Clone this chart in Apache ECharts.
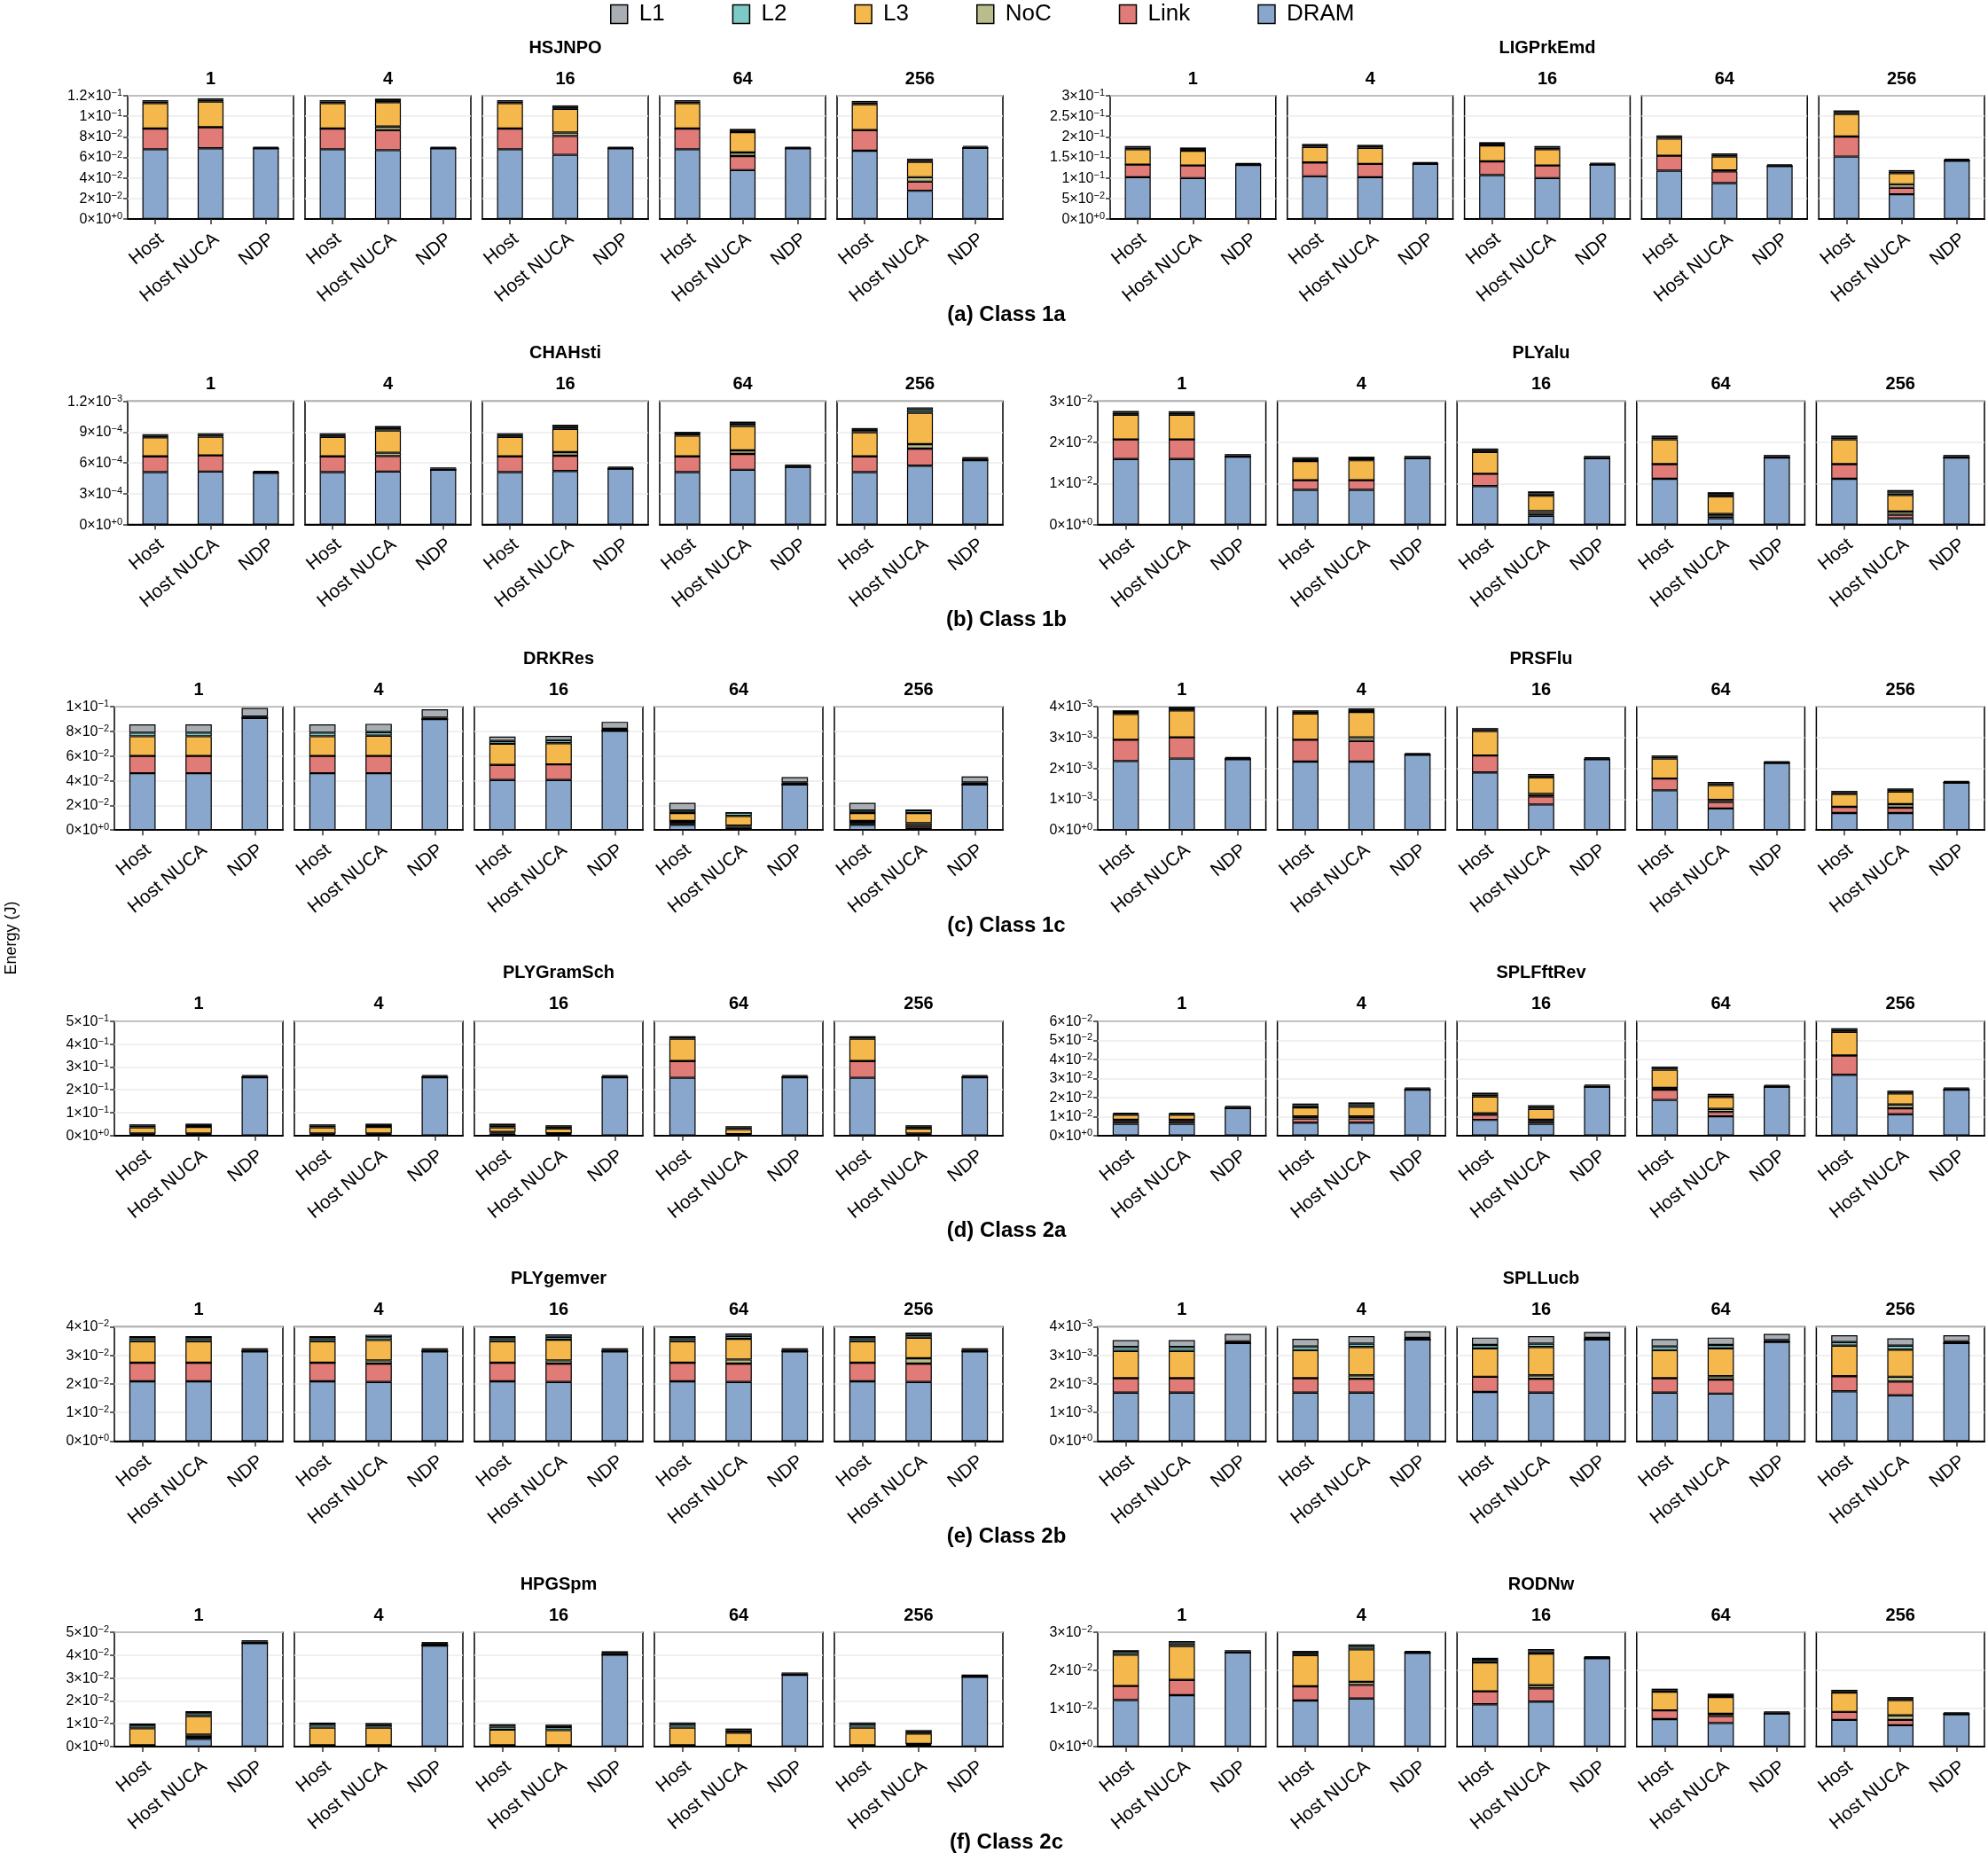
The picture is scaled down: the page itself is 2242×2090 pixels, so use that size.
<!DOCTYPE html>
<html>
<head>
<meta charset="utf-8">
<script src="https://cdn.jsdelivr.net/npm/echarts@6/dist/echarts.min.js"></script>
<style>html,body{margin:0;padding:0;background:#fff}#main{width:2242px;height:2090px}</style>
</head>
<body>
<div id="main"></div>
<script>
// ---------- categories ----------
const COMPONENTS = ['DRAM', 'Link', 'NoC', 'L3', 'L2', 'L1']; // stack order, bottom -> top
const LEGEND_ORDER = ['L1', 'L2', 'L3', 'NoC', 'Link', 'DRAM'];
const CONFIGS = ['Host', 'Host NUCA', 'NDP'];
const FACETS = ['1', '4', '16', '64', '256'];
const BENCHMARKS = ['HSJNPO', 'LIGPrkEmd', 'CHAHsti', 'PLYalu', 'DRKRes', 'PRSFlu',
                    'PLYGramSch', 'SPLFftRev', 'PLYgemver', 'SPLLucb', 'HPGSpm', 'RODNw'];
const CAPTIONS = ['(a) Class 1a', '(b) Class 1b', '(c) Class 1c', '(d) Class 2a', '(e) Class 2b', '(f) Class 2c'];
// y-axis ticks per benchmark
const Y_MAX  = [0.12, 0.3, 1.2e-3, 3e-2, 0.1, 4e-3, 0.5, 6e-2, 4e-2, 4e-3, 5e-2, 3e-2];
const Y_STEP = [0.02, 0.05, 3e-4, 1e-2, 0.02, 1e-3, 0.1, 1e-2, 1e-2, 1e-3, 1e-2, 1e-2];

// ---------- values: per benchmark, per component; 15 values = facet(1,4,16,64,256) x [Host, Host NUCA, NDP] ----------
const HSJNPO_DRAM = [.0679,.0688,.0688, .0679,.0670,.0688, .0679,.0625,.0688, .0679,.0476,.0688, .0665,.0275,.0693];
const HSJNPO_Link = [.0201,.0206,0, .0201,.0195,0, .0201,.0183,0, .0201,.0137,0, .0200,.0089,0];
const HSJNPO_NoC  = [0,0,0, 0,.0035,0, 0,.0034,0, 0,.0035,0, 0,.0043,0];
const HSJNPO_L3   = [.0249,.0249,0, .0249,.0237,0, .0249,.0230,0, .0249,.0197,0, .0252,.0149,0];
const HSJNPO_L2   = [.0015,.0018,.0007, .0015,.0019,.0007, .0015,.0018,.0007, .0015,.0017,.0007, .0017,.0017,.0010];
const HSJNPO_L1   = [.0013,.0014,.0007, .0013,.0016,.0007, .0013,.0016,.0007, .0013,.0015,.0007, .0015,.0014,.0010];

const LIGPrkEmd_DRAM = [.1017,.0996,.1318, .1039,.1017,.1340, .1067,.0996,.1325, .1175,.0874,.1289, .1519,.0602,.1418];
const LIGPrkEmd_Link = [.0308,.0308,0, .0336,.0323,0, .0337,.0308,0, .0365,.0286,0, .0487,.0157,0];
const LIGPrkEmd_NoC  = [0,0,0, 0,0,0, 0,0,0, 0,.0025,0, 0,.0086,0];
const LIGPrkEmd_L3   = [.0373,.0358,0, .0380,.0393,0, .0387,.0394,0, .0415,.0334,0, .0551,.0272,0];
const LIGPrkEmd_L2   = [.0042,.0042,.0022, .0039,.0039,.0022, .0042,.0042,.0023, .0042,.0042,.0023, .0046,.0039,.0027];
const LIGPrkEmd_L1   = [.0036,.0036,.0020, .0033,.0033,.0020, .0037,.0036,.0020, .0037,.0036,.0020, .0040,.0033,.0023];

const CHAHsti_DRAM = [5.10e-4,5.16e-4,5.04e-4, 5.10e-4,5.16e-4,5.33e-4, 5.10e-4,5.21e-4,5.44e-4, 5.10e-4,5.33e-4,5.61e-4, 5.10e-4,5.73e-4,6.27e-4];
const CHAHsti_Link = [1.54e-4,1.57e-4,0, 1.54e-4,1.51e-4,0, 1.54e-4,1.49e-4,0, 1.54e-4,1.54e-4,0, 1.54e-4,1.66e-4,0];
const CHAHsti_NoC  = [0,0,0, 0,0.32e-4,0, 0,0.35e-4,0, 0,0.35e-4,0, 0,0.43e-4,0];
const CHAHsti_L3   = [1.84e-4,1.83e-4,0, 1.89e-4,2.17e-4,0, 1.89e-4,2.26e-4,0, 2.01e-4,2.37e-4,0, 2.35e-4,3.06e-4,0];
const CHAHsti_L2   = [0.17e-4,0.17e-4,0.09e-4, 0.19e-4,0.23e-4,0.12e-4, 0.19e-4,0.22e-4,0.11e-4, 0.20e-4,0.23e-4,0.12e-4, 0.22e-4,0.28e-4,0.15e-4];
const CHAHsti_L1   = [0.14e-4,0.15e-4,0.08e-4, 0.16e-4,0.20e-4,0.11e-4, 0.16e-4,0.18e-4,0.09e-4, 0.17e-4,0.20e-4,0.11e-4, 0.18e-4,0.24e-4,0.14e-4];

const PLYalu_DRAM = [.01593,.01593,.01650, .00843,.00843,.01614, .00936,.00214,.01614, .01114,.00150,.01629, .01114,.00150,.01629];
const PLYalu_Link = [.00478,.00478,0, .00236,.00236,0, .00300,.00050,0, .00357,.00050,0, .00357,.00086,0];
const PLYalu_NoC  = [0,0,0, 0,0,0, 0,.00065,0, 0,.00057,0, 0,.00078,0];
const PLYalu_L3   = [.00600,.00600,0, .00464,.00485,0, .00528,.00371,0, .00600,.00429,0, .00600,.00407,0];
const PLYalu_L2   = [.00050,.00046,.00034, .00050,.00046,.00030, .00046,.00057,.00030, .00050,.00053,.00034, .00050,.00061,.00034];
const PLYalu_L1   = [.00043,.00040,.00030, .00043,.00040,.00027, .00040,.00050,.00027, .00043,.00047,.00030, .00043,.00054,.00030];

const DRKRes_DRAM = [.0461,.0461,.0909, .0461,.0461,.0900, .0406,.0406,.0805, .0043,.0017,.0370, .0043,.0017,.0370];
const DRKRes_Link = [.0140,.0140,0, .0140,.0140,0, .0122,.0127,0, .0015,.0010,0, .0015,.0018,0];
const DRKRes_NoC  = [0,0,0, 0,0,0, 0,0,0, .0016,.0009,0, .0016,.0020,0];
const DRKRes_L3   = [.0160,.0160,0, .0160,.0165,0, .0172,.0172,0, .0064,.0079,0, .0064,.0083,0];
const DRKRes_L2   = [.0029,.0029,.0012, .0029,.0029,.0012, .0023,.0024,.0017, .0020,.0026,.0017, .0020,.0024,.0017];
const DRKRes_L1   = [.0067,.0067,.0069, .0067,.0067,.0068, .0036,.0035,.0056, .0062,0,.0043, .0062,0,.0047];

const PRSFlu_DRAM = [2.24e-3,2.32e-3,2.30e-3, 2.22e-3,2.22e-3,2.44e-3, 1.87e-3,0.83e-3,2.30e-3, 1.29e-3,0.70e-3,2.18e-3, 0.554e-3,0.554e-3,1.54e-3];
const PRSFlu_Link = [0.69e-3,0.69e-3,0, 0.71e-3,0.67e-3,0, 0.55e-3,0.26e-3,0, 0.38e-3,0.21e-3,0, 0.20e-3,0.172e-3,0];
const PRSFlu_NoC  = [0,0,0, 0,0.12e-3,0, 0,0.08e-3,0, 0,0.07e-3,0, 0,0.114e-3,0];
const PRSFlu_L3   = [0.84e-3,0.87e-3,0, 0.85e-3,0.82e-3,0, 0.79e-3,0.54e-3,0, 0.65e-3,0.48e-3,0, 0.416e-3,0.41e-3,0];
const PRSFlu_L2   = [0.063e-3,0.065e-3,0.04e-3, 0.058e-3,0.065e-3,0.03e-3, 0.055e-3,0.06e-3,0.03e-3, 0.055e-3,0.055e-3,0.03e-3, 0.055e-3,0.055e-3,0.03e-3];
const PRSFlu_L1   = [0.053e-3,0.055e-3,0.03e-3, 0.048e-3,0.055e-3,0.03e-3, 0.045e-3,0.05e-3,0.03e-3, 0.045e-3,0.045e-3,0.02e-3, 0.045e-3,0.045e-3,0.02e-3];

const PLYGramSch_DRAM = [.004,.004,.255, .004,.004,.255, .008,.004,.255, .2526,.002,.255, .2526,.003,.255];
const PLYGramSch_Link = [.003,.003,0, .003,.003,0, .004,.003,0, .0734,.002,0, .0734,.003,0];
const PLYGramSch_NoC  = [.002,.002,0, .002,.002,0, .004,.003,0, 0,.002,0, 0,.003,0];
const PLYGramSch_L3   = [.027,.029,0, .027,.029,0, .020,.021,0, .0976,.0225,0, .0976,.022,0];
const PLYGramSch_L2   = [.007,.008,.005, .007,.008,.005, .009,.008,.005, .006,.007,.005, .006,.008,.005];
const PLYGramSch_L1   = [.006,.006,.004, .006,.006,.004, .007,.006,.004, .005,.0055,.004, .005,.006,.004];

const SPLFftRev_DRAM = [.0062,.0062,.01446, .0068,.0068,.0241, .0082,.0062,.0256, .0187,.0101,.0256, .0319,.0112,.0241];
const SPLFftRev_Link = [.0013,.0013,0, .0022,.0022,0, .0027,.0013,0, .0054,.0023,0, .0101,.0031,0];
const SPLFftRev_NoC  = [.0008,.0008,0, .0011,.0011,0, .0008,.0008,0, .0009,.0016,0, 0,.0020,0];
const SPLFftRev_L3   = [.0026,.0026,0, .0047,.0050,0, .0088,.0057,0, .0095,.0062,0, .0124,.0058,0];
const SPLFftRev_L2   = [.0006,.0006,.0006, .0012,.0013,.0006, .0011,.0010,.0006, .0009,.0009,.0005, .0010,.0008,.0006];
const SPLFftRev_L1   = [.0005,.0005,.0005, .0008,.0010,.0005, .0009,.0009,.0005, .0008,.0008,.0005, .0009,.0007,.0005];

const PLYgemver_DRAM = [.02088,.02088,.03132, .02088,.02067,.03132, .02088,.02067,.03132, .02088,.02067,.03132, .02088,.02067,.03132];
const PLYgemver_Link = [.00651,.00651,0, .00651,.00641,0, .00651,.00641,0, .00651,.00641,0, .00651,.00641,0];
const PLYgemver_NoC  = [0,0,0, 0,.00114,0, 0,.00114,0, 0,.00145,0, 0,.00186,0];
const PLYgemver_L3   = [.00755,.00755,0, .00755,.00713,0, .00755,.00723,0, .00755,.00723,0, .00755,.00724,0];
const PLYgemver_L2   = [.0010,.0010,.0006, .0010,.0010,.0006, .0010,.0010,.0006, .0010,.0010,.0006, .0010,.0009,.0006];
const PLYgemver_L1   = [.00075,.00075,.00054, .00075,.00086,.00054, .00075,.00086,.00054, .00075,.00086,.00054, .00075,.00085,.00054];

const SPLLucb_DRAM = [1.695e-3,1.695e-3,3.43e-3, 1.695e-3,1.695e-3,3.55e-3, 1.716e-3,1.695e-3,3.55e-3, 1.695e-3,1.66e-3,3.47e-3, 1.74e-3,1.60e-3,3.43e-3];
const SPLLucb_Link = [0.505e-3,0.505e-3,0, 0.505e-3,0.485e-3,0, 0.534e-3,0.485e-3,0, 0.505e-3,0.49e-3,0, 0.53e-3,0.48e-3,0];
const SPLLucb_NoC  = [0,0,0, 0,0.12e-3,0, 0,0.12e-3,0, 0,0.12e-3,0, 0,0.17e-3,0];
const SPLLucb_L3   = [0.95e-3,0.95e-3,0, 0.98e-3,0.99e-3,0, 0.99e-3,0.99e-3,0, 0.98e-3,0.97e-3,0, 1.07e-3,0.95e-3,0];
const SPLLucb_L2   = [0.14e-3,0.14e-3,0.06e-3, 0.13e-3,0.12e-3,0.06e-3, 0.12e-3,0.12e-3,0.06e-3, 0.13e-3,0.12e-3,0.06e-3, 0.12e-3,0.14e-3,0.06e-3];
const SPLLucb_L1   = [0.24e-3,0.24e-3,0.26e-3, 0.27e-3,0.26e-3,0.23e-3, 0.26e-3,0.26e-3,0.21e-3, 0.26e-3,0.26e-3,0.22e-3, 0.24e-3,0.25e-3,0.21e-3];

const HPGSpm_DRAM = [.0003,.0034,.0452, .0003,.0003,.0442, .0003,.0003,.0402, .0003,.0003,.0314, .0003,.0004,.0305];
const HPGSpm_Link = [.0002,.0009,0, .0002,.0002,0, .0002,.0002,0, .0002,.0002,0, .0002,.0004,0];
const HPGSpm_NoC  = [.0001,.0010,0, .0001,.0001,0, .0001,.0001,0, .0001,.0001,0, .0001,.0004,0];
const HPGSpm_L3   = [.0074,.0081,0, .0077,.0077,0, .0068,.0066,0, .0077,.0055,0, .0077,.0045,0];
const HPGSpm_L2   = [.0012,.0012,.0007, .0013,.0011,.0008, .0013,.0013,.0008, .0013,.0010,.0005, .0013,.0008,.0005];
const HPGSpm_L1   = [.0009,.0009,.0006, .0009,.0009,.0007, .0011,.0011,.0007, .0010,.0008,.0005, .0010,.0007,.0005];

const RODNw_DRAM = [.0122,.0135,.0247, .0121,.0126,.0246, .0111,.0118,.0232, .0072,.0062,.0087, .0070,.0056,.0085];
const RODNw_Link = [.0037,.0040,0, .0037,.0036,0, .0034,.0035,0, .0023,.0018,0, .0021,.0014,0];
const RODNw_NoC  = [0,0,0, 0,.0008,0, 0,.0008,0, 0,.0006,0, 0,.0012,0];
const RODNw_L3   = [.0082,.0089,0, .0082,.0085,0, .0076,.0083,0, .0049,.0044,0, .0051,.0040,0];
const RODNw_L2   = [.0007,.0007,.0003, .0006,.0007,.0003, .0007,.0006,.0003, .0004,.0005,.0003, .0004,.0004,.0003];
const RODNw_L1   = [.0005,.0006,.0003, .0005,.0006,.0002, .0005,.0006,.0002, .0004,.0004,.0002, .0003,.0004,.0002];

// lookup table built from the arrays above
const DATA = {
  HSJNPO: {DRAM: HSJNPO_DRAM, Link: HSJNPO_Link, NoC: HSJNPO_NoC, L3: HSJNPO_L3, L2: HSJNPO_L2, L1: HSJNPO_L1},
  LIGPrkEmd: {DRAM: LIGPrkEmd_DRAM, Link: LIGPrkEmd_Link, NoC: LIGPrkEmd_NoC, L3: LIGPrkEmd_L3, L2: LIGPrkEmd_L2, L1: LIGPrkEmd_L1},
  CHAHsti: {DRAM: CHAHsti_DRAM, Link: CHAHsti_Link, NoC: CHAHsti_NoC, L3: CHAHsti_L3, L2: CHAHsti_L2, L1: CHAHsti_L1},
  PLYalu: {DRAM: PLYalu_DRAM, Link: PLYalu_Link, NoC: PLYalu_NoC, L3: PLYalu_L3, L2: PLYalu_L2, L1: PLYalu_L1},
  DRKRes: {DRAM: DRKRes_DRAM, Link: DRKRes_Link, NoC: DRKRes_NoC, L3: DRKRes_L3, L2: DRKRes_L2, L1: DRKRes_L1},
  PRSFlu: {DRAM: PRSFlu_DRAM, Link: PRSFlu_Link, NoC: PRSFlu_NoC, L3: PRSFlu_L3, L2: PRSFlu_L2, L1: PRSFlu_L1},
  PLYGramSch: {DRAM: PLYGramSch_DRAM, Link: PLYGramSch_Link, NoC: PLYGramSch_NoC, L3: PLYGramSch_L3, L2: PLYGramSch_L2, L1: PLYGramSch_L1},
  SPLFftRev: {DRAM: SPLFftRev_DRAM, Link: SPLFftRev_Link, NoC: SPLFftRev_NoC, L3: SPLFftRev_L3, L2: SPLFftRev_L2, L1: SPLFftRev_L1},
  PLYgemver: {DRAM: PLYgemver_DRAM, Link: PLYgemver_Link, NoC: PLYgemver_NoC, L3: PLYgemver_L3, L2: PLYgemver_L2, L1: PLYgemver_L1},
  SPLLucb: {DRAM: SPLLucb_DRAM, Link: SPLLucb_Link, NoC: SPLLucb_NoC, L3: SPLLucb_L3, L2: SPLLucb_L2, L1: SPLLucb_L1},
  HPGSpm: {DRAM: HPGSpm_DRAM, Link: HPGSpm_Link, NoC: HPGSpm_NoC, L3: HPGSpm_L3, L2: HPGSpm_L2, L1: HPGSpm_L1},
  RODNw: {DRAM: RODNw_DRAM, Link: RODNw_Link, NoC: RODNw_NoC, L3: RODNw_L3, L2: RODNw_L2, L1: RODNw_L1}
};

// ---------- styles ----------
const COLORS = {L1: '#A8AEB4', L2: '#7DC9C6', L3: '#F5B84C', NoC: '#B9BD8C', Link: '#E07B77', DRAM: '#89A7CD'};
const FONT = '"Liberation Sans", Arial, Helvetica, sans-serif';

function sci(v) {
  if (Math.abs(v) < 1e-12) return '{m|0×10}{s|+0}';
  let e = Math.floor(Math.log10(v) + 1e-9);
  let m = Math.round(v / Math.pow(10, e) * 100) / 100;
  if (m >= 10) { m = m / 10; e += 1; }
  const es = e >= 0 ? '+' + e : '−' + (-e);
  return '{m|' + m + '×10}{s|' + es + '}';
}

const ROW_PITCH = 344.6;
const grids = [], xAxes = [], yAxes = [], series = [], graphics = [];

BENCHMARKS.forEach((b, bi) => {
  const row = Math.floor(bi / 2), side = bi % 2;
  const off = row * ROW_PITCH;
  const top = (row < 3 ? 108 : 118) + off;
  const bottom = 247 + off;
  const h = bottom - top;
  const x0 = side === 0 ? (row < 2 ? 144 : 129) : (row === 0 ? 1252 : 1238);
  const x1 = side === 0 ? 1131 : 2238;
  const gap = 13;
  const w = (x1 - x0 - 4 * gap) / 5;

  graphics.push({type: 'text', x: (x0 + x1) / 2, y: top - 54,
    style: {text: b, fontSize: 20, fontWeight: 'bold', fontFamily: FONT, fill: '#000', textAlign: 'center', textVerticalAlign: 'middle'}});

  FACETS.forEach((f, fi) => {
    const gi = grids.length;
    const left = x0 + fi * (w + gap);
    grids.push({left: left, top: top, width: w, height: h, show: true, borderColor: '#000', borderWidth: 1.5, backgroundColor: '#fff'});
    graphics.push({type: 'text', x: left + w / 2, y: top - 19,
      style: {text: f, fontSize: 20, fontWeight: 'bold', fontFamily: FONT, fill: '#000', textAlign: 'center', textVerticalAlign: 'middle'}});
    xAxes.push({
      gridIndex: gi, type: 'category', data: CONFIGS, boundaryGap: true,
      splitLine: {show: false},
      axisLine: {show: true, onZero: false, lineStyle: {color: '#000', width: 2}},
      axisTick: {show: true, alignWithLabel: true, interval: 0, length: 6, lineStyle: {color: '#333', width: 1.5}},
      axisLabel: {show: true, interval: 0, rotate: 40, margin: 12, fontSize: 21, fontFamily: FONT, color: '#000',
        align: 'right', verticalAlign: 'top'}
    });
    yAxes.push({
      gridIndex: gi, type: 'value', min: 0, max: Y_MAX[bi], interval: Y_STEP[bi],
      splitLine: {show: true, lineStyle: {color: '#EBEBEB', width: 1.5}},
      axisLine: {show: false},
      axisTick: {show: fi === 0, length: 5, lineStyle: {color: '#333', width: 1.5}},
      axisLabel: {show: fi === 0, margin: 6, color: '#000', formatter: sci,
        showMinLabel: true, showMaxLabel: true, hideOverlap: false,
        rich: {m: {fontSize: 16, fontFamily: FONT, color: '#000', lineHeight: 17, verticalAlign: 'bottom'},
               s: {fontSize: 11, fontFamily: FONT, color: '#000', lineHeight: 11, verticalAlign: 'top'}}}
    });
    COMPONENTS.forEach(c => {
      const arr = DATA[b][c];
      series.push({
        type: 'bar', name: c, xAxisIndex: gi, yAxisIndex: gi, stack: 'st' + gi,
        barWidth: w * 0.156, silent: true,
        itemStyle: {color: COLORS[c], borderColor: '#000', borderWidth: 1.2},
        data: arr.slice(fi * 3, fi * 3 + 3)
      });
    });
  });
});

CAPTIONS.forEach((t, r) => {
  graphics.push({type: 'text', x: 1135, y: 355 + r * ROW_PITCH,
    style: {text: t, fontSize: 24, fontWeight: 'bold', fontFamily: FONT, fill: '#000', textAlign: 'center', textVerticalAlign: 'middle'}});
});
graphics.push({type: 'text', x: 13, y: 1058, rotation: Math.PI / 2,
  style: {text: 'Energy (J)', fontSize: 18, fontFamily: FONT, fill: '#000', textAlign: 'center', textVerticalAlign: 'middle'}});

const chart = echarts.init(document.getElementById('main'), null, {renderer: 'canvas'});
chart.setOption({
  backgroundColor: '#fff',
  animation: false,
  legend: {
    data: LEGEND_ORDER, top: 3, left: 688, padding: 0, itemWidth: 19, itemHeight: 21, itemGap: 76, icon: 'rect',
    selectedMode: false,
    itemStyle: {borderColor: '#000', borderWidth: 1.5},
    textStyle: {fontSize: 26, fontFamily: FONT, color: '#000', padding: [0, 0, 0, 8]}
  },
  grid: grids, xAxis: xAxes, yAxis: yAxes, series: series, graphic: graphics
});
</script>
</body>
</html>
